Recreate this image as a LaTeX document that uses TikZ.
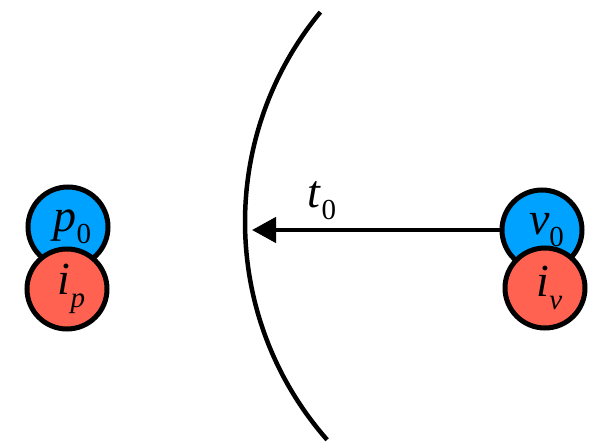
\documentclass[tikz,border=0pt]{standalone}
\usepackage{fontspec}
\setmainfont{Liberation Serif}
\usetikzlibrary{arrows.meta}
\definecolor{ballblue}{RGB}{0,162,255}
\definecolor{ballred}{RGB}{255,98,80}
\newcommand{\lbl}[2]{\textit{#1}\raisebox{-0.27em}{\fontsize{29}{32}\selectfont\textit{#2}}}
\newcommand{\lblz}[2]{\textit{#1}\raisebox{-0.27em}{\fontsize{29}{32}\selectfont #2}}
\begin{document}
\begin{tikzpicture}[x=1pt,y=-1pt,
  bigtext/.style={font=\fontsize{46}{52}\selectfont},
  ball/.style={circle,draw=black,line width=5pt,minimum size=80pt,inner sep=0pt,bigtext},
  bluball/.style={ball,fill=ballblue},
  redball/.style={ball,fill=ballred}]
\useasboundingbox (0,0) rectangle (594,444);
\node[bluball] (p0) at (68,227) {\hspace*{9pt}\lblz{p}{0}};
\node[redball] (ip) at (67,289) {\hspace*{9pt}\lbl{i}{p}};
\node[bluball] (v0) at (542,230) {\hspace*{9pt}\lblz{v}{0}};
\node[redball] (iv) at (545,288) {\hspace*{9pt}\lbl{i}{v}};
\coordinate (arcc) at (575,222);
\draw[line width=4.5pt] (arcc) ++(138.7:330) arc[start angle=138.7,end angle=219.5,radius=330];
\coordinate (tip) at (252,230);
\draw[line width=4.5pt,-{Triangle[length=24pt,width=25pt]}] (v0.west) -- node[pos=0.717,anchor=south,inner sep=0pt,yshift=8pt,bigtext] (t0) {\lblz{t}{0}} (tip);
\end{tikzpicture}
\end{document}
